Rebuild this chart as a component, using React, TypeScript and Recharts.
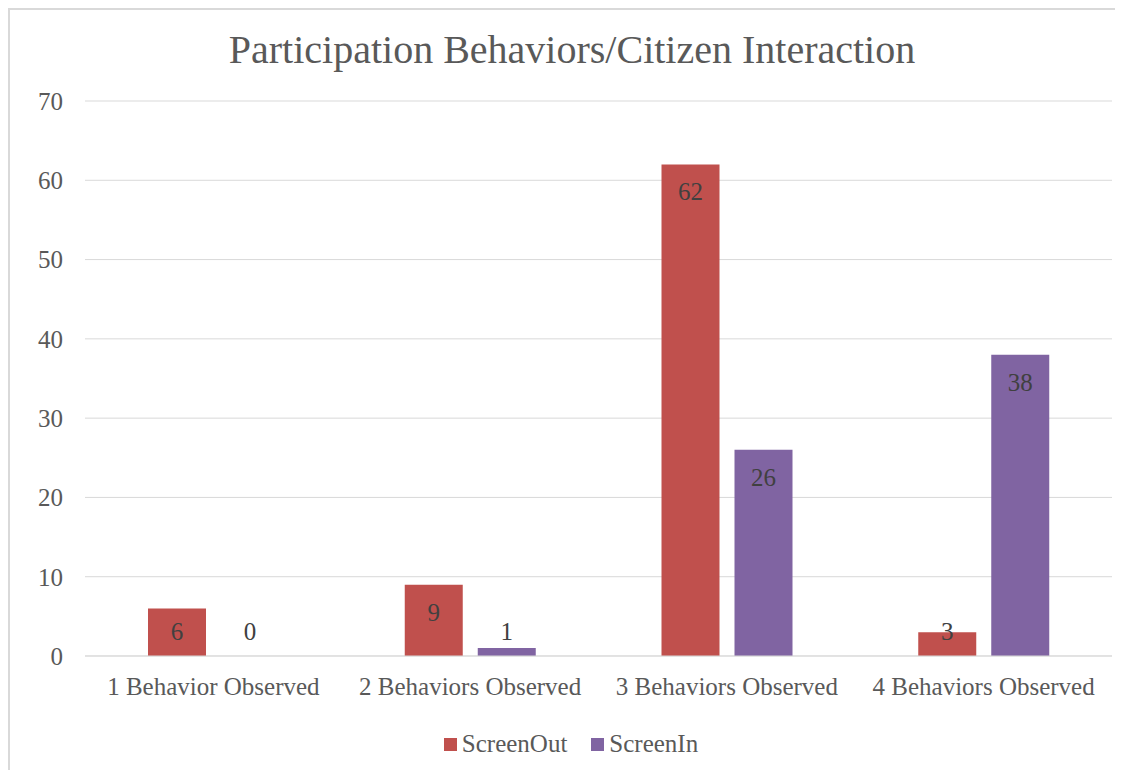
import { BarChart, Bar, XAxis, YAxis, CartesianGrid, Legend, LabelList } from "recharts";

const categories = [
  "1 Behavior Observed",
  "2 Behaviors Observed",
  "3 Behaviors Observed",
  "4 Behaviors Observed",
];
const screenOut = [6, 9, 62, 3];
const screenIn = [0, 1, 26, 38];
const yTicks = [0, 10, 20, 30, 40, 50, 60, 70];

const RED = "#C0504D";
const PURPLE = "#8064A2";
const FONT = "'Liberation Serif', serif";

const data = categories.map((c, i) => ({
  category: c,
  ScreenOut: screenOut[i],
  ScreenIn: screenIn[i],
}));

// Excel-style "inside end" label, pushed above the axis when the bar is too short
const renderLabel = (props: any) => {
  const { x, y, width, height, value } = props;
  const cx = Number(x) + Number(width) / 2;
  const bottom = Number(y) + Number(height);
  const baseline = Math.min(Number(y) + 36, bottom - 16);
  return (
    <text x={cx} y={baseline} textAnchor="middle" fill="#404040" fontSize={25} fontFamily={FONT}>
      {value}
    </text>
  );
};

const renderLegend = () => (
  <div
    style={{
      height: 24,
      display: "flex",
      justifyContent: "center",
      alignItems: "center",
      paddingLeft: 22,
      fontFamily: FONT,
      fontSize: 25,
      color: "#595959",
    }}
  >
    {[
      ["ScreenOut", RED],
      ["ScreenIn", PURPLE],
    ].map(([name, color]) => (
      <span key={name} style={{ display: "flex", alignItems: "center", marginRight: name === "ScreenOut" ? 24 : 0 }}>
        <span style={{ width: 13, height: 13, background: color, marginRight: 5, display: "inline-block" }} />
        {name}
      </span>
    ))}
  </div>
);

export default function App() {
  return (
    <div style={{ position: "relative", width: 1115, height: 762, overflow: "hidden" }}>
      <div
        style={{
          position: "absolute",
          left: 0,
          top: 0,
          width: 1200,
          height: 800,
          borderTop: "2px solid #D9D9D9",
          borderLeft: "2px solid #D9D9D9",
          boxSizing: "border-box",
        }}
      />
      <div
        style={{
          position: "absolute",
          left: 564,
          top: 22,
          transform: "translateX(-50%)",
          whiteSpace: "nowrap",
          fontFamily: FONT,
          fontSize: 40,
          lineHeight: "40px",
          color: "#595959",
        }}
      >
        Participation Behaviors/Citizen Interaction
      </div>
      <div style={{ position: "absolute", left: 0, top: 0 }}>
        <BarChart
          width={1115}
          height={762}
          data={data}
          margin={{ top: 93, right: 11, left: 0, bottom: 50 }}
          barSize={58}
          barGap={15}
        >
          <CartesianGrid vertical={false} stroke="#D9D9D9" />
          <XAxis
            dataKey="category"
            height={40}
            tickLine={false}
            tickSize={0}
            tickMargin={21}
            axisLine={{ stroke: "#D9D9D9" }}
            tick={{ fill: "#595959", fontSize: 25, fontFamily: FONT }}
            interval={0}
          />
          <YAxis
            width={77}
            domain={[0, 70]}
            ticks={yTicks}
            tickLine={false}
            axisLine={false}
            tickSize={0}
            tickMargin={22}
            tick={{ fill: "#595959", fontSize: 25, fontFamily: FONT }}
          />
          <Legend verticalAlign="bottom" content={renderLegend} wrapperStyle={{ top: 724, bottom: "auto" }} />
          <Bar dataKey="ScreenOut" fill={RED} isAnimationActive={false}>
            <LabelList dataKey="ScreenOut" content={renderLabel} />
          </Bar>
          <Bar dataKey="ScreenIn" fill={PURPLE} minPointSize={0.01} isAnimationActive={false}>
            <LabelList dataKey="ScreenIn" content={renderLabel} />
          </Bar>
        </BarChart>
      </div>
    </div>
  );
}
